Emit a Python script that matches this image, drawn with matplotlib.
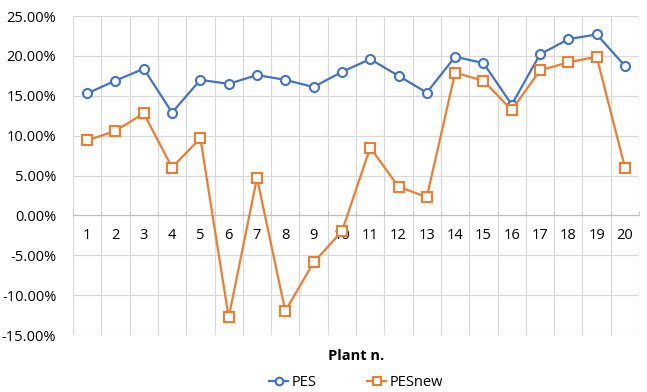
import numpy as np
import matplotlib
matplotlib.use("Agg")
import matplotlib.pyplot as plt
from matplotlib.ticker import FuncFormatter, MultipleLocator

plants = list(range(1, 21))
pes = [15.3, 16.9, 18.4, 12.9, 17.0, 16.5, 17.6, 17.0, 16.1, 18.0,
       19.6, 17.5, 15.4, 19.9, 19.1, 13.9, 20.2, 22.1, 22.7, 18.75]
pes_new = [9.4, 10.6, 12.8, 6.0, 9.7, -12.8, 4.7, -12.0, -5.9, -2.0,
           8.5, 3.6, 2.3, 17.9, 16.9, 13.2, 18.2, 19.2, 19.9, 6.0]

plt.rcParams['font.family'] = ['Open Sans', 'DejaVu Sans']

blue = '#4472C4'
orange = '#ED7D31'
grid = '#D9D9D9'

fig = plt.figure(figsize=(6.47, 3.92), dpi=100)
ax = fig.add_axes([0.1128, 0.1454, 0.875, 0.8136])

ax.plot(plants, pes, color=blue, lw=1.6, marker='o', ms=6.5, mfc='white',
        mec=blue, mew=1.5, label='PES', zorder=3)
ax.plot(plants, pes_new, color=orange, lw=1.6, marker='s', ms=6.5, mfc='white',
        mec=orange, mew=1.5, label='PESnew', zorder=3)

ax.set_xlim(0.5, 20.5)
ax.set_ylim(-15, 25)
ax.yaxis.set_major_locator(MultipleLocator(5))
ax.yaxis.set_major_formatter(FuncFormatter(lambda v, p: f"{v:.2f}%"))
ax.set_xticks(plants)
ax.set_xticks(np.arange(0.5, 21, 1), minor=True)

ax.grid(True, which='major', axis='y', color=grid, lw=0.9)
ax.grid(True, which='minor', axis='x', color=grid, lw=0.9)
for s in ax.spines.values():
    s.set_visible(False)

# category axis crosses at zero
ax.spines['bottom'].set_position(('data', 0))
ax.spines['bottom'].set_visible(True)
ax.spines['bottom'].set_color('#BFBFBF')
ax.tick_params(axis='x', which='major', length=0, pad=9, labelsize=10.5, colors='black')
ax.tick_params(axis='x', which='minor', length=3, direction='in', color='#BFBFBF')
ax.tick_params(axis='y', length=0, pad=12, labelsize=10.5)
ax.set_axisbelow(True)

ax.text(0.5, -0.045, 'Plant n.', transform=ax.transAxes, ha='center', va='top',
        fontsize=10.5, fontweight='bold')

ax.legend(loc='upper center', bbox_to_anchor=(0.5, -0.085), ncol=2, frameon=False,
          fontsize=10.5, columnspacing=3.5, handlelength=1.3, handletextpad=0.2,
          markerscale=0.85)

fig.savefig('out.png', dpi=100)
